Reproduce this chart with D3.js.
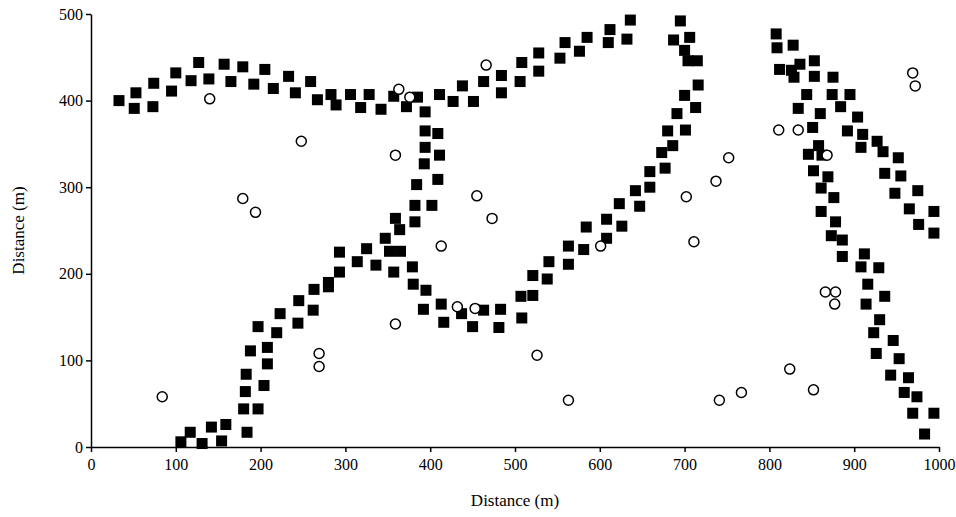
<!DOCTYPE html>
<html>
<head>
<meta charset="utf-8">
<script src="https://cdn.jsdelivr.net/npm/d3@7"></script>
<style>
  body { margin: 0; background: #fff; }
  svg { display: block; }
  .axis text { font-family: "Liberation Serif", "Times New Roman", serif; font-size: 16px; fill: #000; }
  .axis path, .axis line { stroke: #000; stroke-width: 1.5px; }
  .title { font-family: "Liberation Serif", "Times New Roman", serif; font-size: 17px; fill: #000; }
</style>
</head>
<body>
<div id="chart"></div>
<script>
// filled squares: [distance x (m), distance y (m)]
const squares = [
  [33, 400], [51, 391], [53, 409], [73, 393], [74, 420], [95, 411], [100, 432], [118, 423],
  [127, 444], [139, 425], [157, 442], [165, 422], [179, 439], [192, 419], [205, 436], [215, 414],
  [233, 428], [241, 409], [259, 422], [267, 401], [283, 407], [289, 395], [306, 407], [318, 392],
  [328, 407], [342, 390], [357, 405], [372, 393], [385, 404], [394, 387], [411, 407], [427, 399],
  [438, 417], [451, 399], [463, 422], [484, 429], [484, 409], [506, 422], [508, 444], [528, 455],
  [528, 434], [553, 449], [559, 467], [576, 457], [585, 473], [610, 467], [612, 482], [632, 471],
  [636, 493],
  // column near 400 m
  [394, 365], [409, 362], [394, 346], [411, 337], [393, 327], [409, 309], [384, 303], [382, 279],
  [402, 279], [359, 264], [382, 260], [364, 251], [347, 241], [352, 226], [365, 226], [325, 229],
  [293, 225], [314, 214], [336, 210], [357, 202], [379, 208], [380, 188], [395, 181], [293, 202],
  [280, 190], [280, 185], [263, 182], [262, 158], [245, 169], [244, 143], [223, 154], [219, 132],
  [197, 139], [208, 115], [208, 96], [188, 111], [183, 84], [182, 64], [204, 71], [180, 44],
  [197, 44], [184, 17], [159, 26], [142, 23], [154, 7], [131, 4], [117, 17], [106, 6],
  // valley and rise to 700 m
  [392, 159], [413, 165], [416, 144], [437, 154], [450, 139], [463, 158], [483, 159], [481, 138],
  [508, 149], [507, 174], [521, 175], [521, 198], [538, 194], [540, 214], [563, 232], [563, 211],
  [581, 228], [584, 254], [608, 241], [608, 263], [626, 255], [623, 281], [647, 278], [642, 296],
  [659, 300], [659, 318], [677, 322], [673, 340], [686, 348], [680, 365], [701, 366], [691, 385],
  [713, 392], [700, 406], [716, 418], [704, 446], [715, 446], [700, 458], [706, 473], [687, 470],
  [695, 492],
  // right side bands
  [808, 477], [809, 461], [828, 464], [812, 436], [836, 442], [826, 435], [829, 427], [853, 446],
  [853, 428], [875, 427], [844, 407], [874, 407], [895, 407], [834, 391], [860, 385], [884, 393],
  [904, 381], [851, 369], [892, 365], [910, 361], [927, 353], [858, 348], [846, 338], [862, 337],
  [908, 346], [934, 341], [952, 334], [852, 319], [869, 312], [936, 316], [955, 313], [861, 299],
  [876, 288], [948, 293], [975, 296], [861, 272], [878, 260], [965, 275], [994, 272], [976, 257],
  [994, 247], [873, 244], [886, 239], [886, 220], [912, 223], [908, 208], [929, 207], [916, 188],
  [936, 174], [914, 165], [930, 147], [923, 132], [946, 123], [926, 108], [953, 102], [943, 83],
  [964, 80], [959, 63], [974, 58], [969, 39], [994, 39], [983, 15]
];

// open circles
const circles = [
  [84, 58], [140, 402], [179, 287], [194, 271], [248, 353], [269, 108], [269, 93], [359, 142],
  [359, 337], [363, 413], [376, 404], [413, 232], [432, 162], [453, 160], [455, 290], [466, 441],
  [473, 264], [526, 106], [563, 54], [601, 232], [702, 289], [711, 237], [737, 307], [741, 54],
  [752, 334], [767, 63], [811, 366], [824, 90], [834, 366], [852, 66], [866, 179], [868, 337],
  [878, 179], [877, 165], [969, 432], [972, 417]
];

const xTicks = [0, 100, 200, 300, 400, 500, 600, 700, 800, 900, 1000];
const yTicks = [0, 100, 200, 300, 400, 500];

const width = 956, height = 517;
const margin = {top: 14, right: 17, bottom: 70, left: 91};

const svg = d3.select("#chart").append("svg")
    .attr("width", width)
    .attr("height", height);

const x = d3.scaleLinear().domain([0, 1000]).range([margin.left, width - margin.right]);
const y = d3.scaleLinear().domain([0, 500]).range([height - margin.bottom, margin.top]);

svg.append("g")
    .attr("class", "axis")
    .attr("transform", `translate(0,${y(0)})`)
    .call(d3.axisBottom(x).tickValues(xTicks).tickFormat(d3.format("d"))
        .tickSize(5).tickSizeOuter(0).tickPadding(7));

svg.append("g")
    .attr("class", "axis")
    .attr("transform", `translate(${x(0)},0)`)
    .call(d3.axisLeft(y).tickValues(yTicks).tickFormat(d3.format("d"))
        .tickSize(5).tickSizeOuter(0).tickPadding(3));

const sq = 11;
svg.append("g").selectAll("rect")
    .data(squares)
    .enter().append("rect")
    .attr("x", d => x(d[0]) - sq / 2)
    .attr("y", d => y(d[1]) - sq / 2)
    .attr("width", sq)
    .attr("height", sq)
    .attr("fill", "#000");

svg.append("g").selectAll("circle")
    .data(circles)
    .enter().append("circle")
    .attr("cx", d => x(d[0]))
    .attr("cy", d => y(d[1]))
    .attr("r", 5)
    .attr("fill", "#fff")
    .attr("stroke", "#000")
    .attr("stroke-width", 1.5);

svg.append("text")
    .attr("class", "title")
    .attr("x", (x(0) + x(1000)) / 2)
    .attr("y", 506)
    .attr("text-anchor", "middle")
    .text("Distance (m)");

svg.append("text")
    .attr("class", "title")
    .attr("transform", `translate(24,${(y(0) + y(500)) / 2}) rotate(-90)`)
    .attr("text-anchor", "middle")
    .text("Distance (m)");
</script>
</body>
</html>
